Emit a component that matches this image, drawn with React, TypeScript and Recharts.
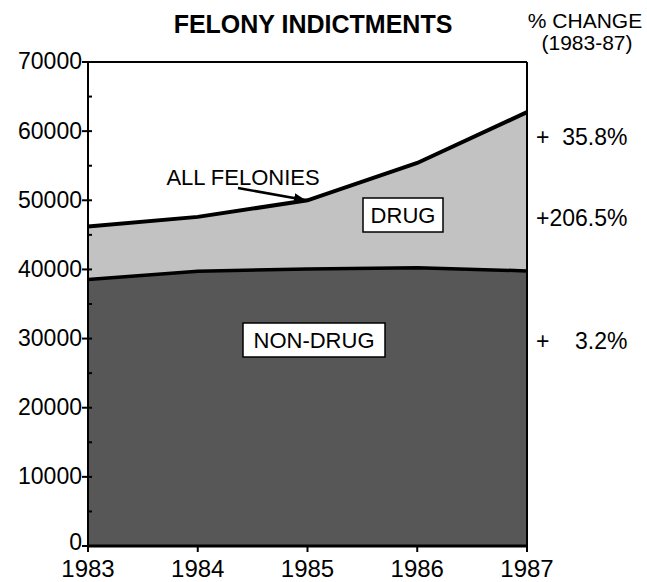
import React from "react";
import { AreaChart, Area, XAxis, YAxis, ReferenceLine } from "recharts";

const years = [1983, 1984, 1985, 1986, 1987];
const nonDrug = [38800, 40000, 40300, 40500, 40040];
const drug = [7410, 7600, 9700, 14900, 22710];
const yTicks = [0, 5000, 10000, 15000, 20000, 25000, 30000, 35000, 40000, 45000, 50000, 55000, 60000, 65000, 70000];
const changeLabels = ["+  35.8%", "+206.5%", "+    3.2%"];

const data = years.map((y, i) => ({ year: y, nonDrug: nonDrug[i], drug: drug[i] }));

const FONT = "'Liberation Sans', Arial, Helvetica, sans-serif";

const YTick = (props: any) => {
  const { x, y, payload } = props;
  const major = payload.value % 10000 === 0;
  if (!major) {
    return <line x1={x} x2={x + 4} y1={y} y2={y} stroke="#000" strokeWidth={2} />;
  }
  const isZero = payload.value === 0;
  return (
    <g>
      <line x1={x - 6} x2={x + 4} y1={y} y2={y} stroke="#000" strokeWidth={2} />
      <text x={x - 6} y={isZero ? y - 3 : y} dy="0.32em" textAnchor="end" fontSize={23} fill="#000" fontFamily={FONT}>
        {payload.value}
      </text>
    </g>
  );
};

export default function App() {
  return (
    <div style={{ position: "absolute", left: 0, top: 0, width: 647, height: 582, background: "#fff" }}>
      <AreaChart width={647} height={582} data={data} margin={{ top: 62, right: 120, bottom: 0, left: 0 }}>
        <XAxis
          dataKey="year"
          type="number"
          domain={[1983, 1987]}
          ticks={years}
          height={36}
          tickSize={6}
          tickMargin={8}
          axisLine={{ stroke: "#000", strokeWidth: 3 }}
          tickLine={{ stroke: "#000", strokeWidth: 2 }}
          tick={{ fontSize: 24, fill: "#000", fontFamily: FONT }}
        />
        <YAxis
          type="number"
          domain={[0, 70000]}
          ticks={yTicks}
          width={88}
          tickSize={0}
          tickMargin={0}
          tickLine={false}
          axisLine={{ stroke: "#000", strokeWidth: 2 }}
          tick={<YTick />}
          interval={0}
        />
        <Area
          type="linear"
          dataKey="nonDrug"
          stackId="a"
          fill="#575757"
          fillOpacity={1}
          stroke="#000"
          strokeWidth={7}
          isAnimationActive={false}
        />
        <Area
          type="linear"
          dataKey="drug"
          stackId="a"
          fill="#c2c2c2"
          fillOpacity={1}
          stroke="#000"
          strokeWidth={4}
          isAnimationActive={false}
        />
        <ReferenceLine y={70000} stroke="#000" strokeWidth={2} />
        <ReferenceLine x={1987} stroke="#000" strokeWidth={2} />
      </AreaChart>
      <svg width={647} height={582} style={{ position: "absolute", left: 0, top: 0, pointerEvents: "none" }}>
        <defs>
          <marker id="arr" markerWidth="12" markerHeight="10" refX="11" refY="5" orient="auto" markerUnits="userSpaceOnUse">
            <path d="M0,0 L12,5 L0,10 z" fill="#000" />
          </marker>
        </defs>
        <text x={313} y={33} textAnchor="middle" fontSize={25} fontWeight="bold" fontFamily={FONT} fill="#000">
          FELONY INDICTMENTS
        </text>
        <text x={585} y={28} textAnchor="middle" fontSize={21} fontFamily={FONT} fill="#000">
          % CHANGE
        </text>
        <text x={587} y={50} textAnchor="middle" fontSize={21} fontFamily={FONT} fill="#000">
          (1983-87)
        </text>
        <text x={536} y={145} fontSize={23} fontFamily={FONT} fill="#000" xmlSpace="preserve">
          {changeLabels[0]}
        </text>
        <text x={536} y={226} fontSize={23} fontFamily={FONT} fill="#000" xmlSpace="preserve">
          {changeLabels[1]}
        </text>
        <text x={536} y={349} fontSize={23} fontFamily={FONT} fill="#000" xmlSpace="preserve">
          {changeLabels[2]}
        </text>
        <text x={243} y={185} textAnchor="middle" fontSize={22} fontFamily={FONT} fill="#000">
          ALL FELONIES
        </text>
        <line x1={238} y1={188} x2={305} y2={200} stroke="#000" strokeWidth={2.5} markerEnd="url(#arr)" />
        <rect x={363} y={198} width={80} height={34} fill="#fff" stroke="#000" strokeWidth={1.5} />
        <text x={403} y={223} textAnchor="middle" fontSize={22} fontFamily={FONT} fill="#000">
          DRUG
        </text>
        <rect x={243} y={323} width={142} height={34} fill="#fff" stroke="#000" strokeWidth={1.5} />
        <text x={314} y={348} textAnchor="middle" fontSize={22} fontFamily={FONT} fill="#000">
          NON-DRUG
        </text>
      </svg>
    </div>
  );
}
